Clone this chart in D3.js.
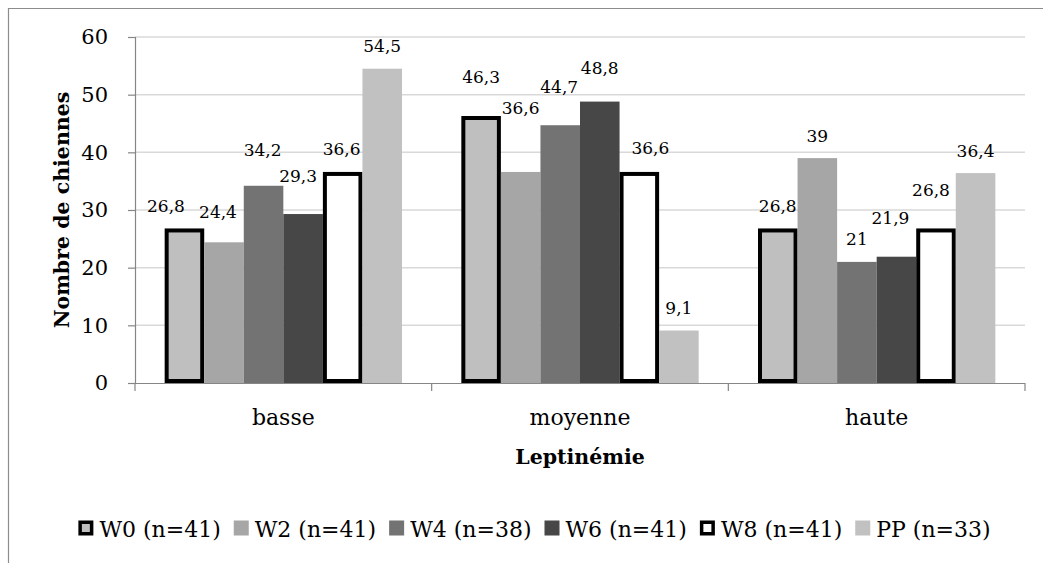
<!DOCTYPE html>
<html>
<head>
<meta charset="utf-8">
<script src="https://cdn.jsdelivr.net/npm/d3@7"></script>
<style>
  html, body { margin: 0; padding: 0; background: #ffffff; }
  svg { display: block; font-family: "DejaVu Serif", serif; }
</style>
</head>
<body>
<svg id="chart" width="1043" height="563"></svg>
<script>
// Leptin level groups on the x axis
const categories = ["basse", "moyenne", "haute"];

// Sampling times (legend entries)
const seriesNames = ["W0 (n=41)", "W2 (n=41)", "W4 (n=38)", "W6 (n=41)", "W8 (n=41)", "PP (n=33)"];

// Percentage of bitches per leptin level, one array per sampling time
const w0 = [26.8, 46.3, 26.8];
const w2 = [24.4, 36.6, 39];
const w4 = [34.2, 44.7, 21];
const w6 = [29.3, 48.8, 21.9];
const w8 = [36.6, 36.6, 26.8];
const pp = [54.5, 9.1, 36.4];

const yTicks = [0, 10, 20, 30, 40, 50, 60];

const yTitle = "Nombre de chiennes";
const xTitle = "Leptinémie";

// ---- styling / layout ----
const seriesValues = [w0, w2, w4, w6, w8, pp];
const fills = ["#bfbfbf", "#a6a6a6", "#737373", "#474747", "#ffffff", "#c1c1c1"];
const outlined = [true, false, false, false, true, false];

// hand-placed label offsets [dx, dy] per category, per series
const labelNudge = [
  [[-18.5, 0], [-6, -7.5], [-1, -13.5], [-5, -15.5], [-1, 0], [0, 0]],
  [[0, -16.5], [0, -41.5], [-1, -15.5], [0, -11.5], [11, -1.5], [0, 0]],
  [[0, 0], [0, 0], [0, 0], [-6, -16], [-5, -15.5], [0, 0]]
];

const plot = { left: 135, right: 1025, top: 37, bottom: 383 };
const svg = d3.select("#chart");

// chart area border (left and top edges visible)
svg.append("path")
  .attr("d", "M8.5,563 V8.5 H1043")
  .attr("fill", "none")
  .attr("stroke", "#8c8c8c")
  .attr("stroke-width", 1.2);

const x0 = d3.scaleBand().domain(categories).range([plot.left, plot.right]).padding(0);
const bw = x0.bandwidth();
const x1 = d3.scaleBand().domain(d3.range(seriesNames.length))
  .range([bw * 0.1, bw * 0.9]).padding(0);
const y = d3.scaleLinear().domain([0, 60]).range([plot.bottom, plot.top]);

// horizontal gridlines
svg.append("g")
  .selectAll("line")
  .data(yTicks.filter(t => t > 0))
  .join("line")
  .attr("x1", plot.left).attr("x2", plot.right)
  .attr("y1", d => y(d)).attr("y2", d => y(d))
  .attr("stroke", "#d9d9d9")
  .attr("stroke-width", 1.5);

// y axis
const yAxis = svg.append("g")
  .attr("transform", `translate(${plot.left},0)`)
  .call(d3.axisLeft(y).tickValues(yTicks).tickSize(7).tickPadding(20).tickFormat(d3.format("d")));
yAxis.select(".domain").attr("stroke", "#868686").attr("stroke-width", 1.2);
yAxis.selectAll(".tick line").attr("stroke", "#868686").attr("stroke-width", 1.2);
yAxis.selectAll(".tick text")
  .attr("font-family", "DejaVu Serif")
  .attr("font-size", 21)
  .attr("fill", "#000");

// bars
const groups = svg.append("g")
  .selectAll("g")
  .data(categories)
  .join("g")
  .attr("transform", d => `translate(${x0(d)},0)`);

seriesNames.forEach((name, si) => {
  const sw = outlined[si] ? 4 : 0;
  groups.append("rect")
    .attr("x", x1(si) + sw / 2)
    .attr("width", x1.bandwidth() - sw)
    .attr("y", (c, ci) => y(seriesValues[si][ci]) + sw / 2)
    .attr("height", (c, ci) => y(0) - y(seriesValues[si][ci]) - sw)
    .attr("fill", fills[si])
    .attr("stroke", outlined[si] ? "#000" : "none")
    .attr("stroke-width", sw);
});

// x axis
const xAxisG = svg.append("g");
xAxisG.append("line")
  .attr("x1", plot.left).attr("x2", plot.right)
  .attr("y1", plot.bottom + 0.5).attr("y2", plot.bottom + 0.5)
  .attr("stroke", "#868686").attr("stroke-width", 1.2);
const bounds = categories.map(c => x0(c)).concat([x0(categories[categories.length - 1]) + bw]);
xAxisG.selectAll("line.tick")
  .data(bounds)
  .join("line")
  .attr("class", "tick")
  .attr("x1", d => d).attr("x2", d => d)
  .attr("y1", plot.bottom).attr("y2", plot.bottom + 8)
  .attr("stroke", "#868686").attr("stroke-width", 1.2);
xAxisG.selectAll("text")
  .data(categories)
  .join("text")
  .attr("x", d => x0(d) + bw / 2)
  .attr("y", 425)
  .attr("text-anchor", "middle")
  .attr("font-size", 22)
  .attr("fill", "#000")
  .text(d => d);

// data labels
const fmt = v => String(v).replace(".", ",");
seriesNames.forEach((name, si) => {
  groups.append("text")
    .attr("x", (c, ci) => x1(si) + x1.bandwidth() / 2 + labelNudge[ci][si][0])
    .attr("y", (c, ci) => y(seriesValues[si][ci]) - 16.5 + labelNudge[ci][si][1])
    .attr("text-anchor", "middle")
    .attr("font-size", 17)
    .attr("fill", "#000")
    .text((c, ci) => fmt(seriesValues[si][ci]));
});

// axis titles
svg.append("text")
  .attr("transform", `translate(69,${(plot.top + plot.bottom) / 2}) rotate(-90)`)
  .attr("text-anchor", "middle")
  .attr("font-size", 20.5)
  .attr("font-weight", "bold")
  .attr("fill", "#000")
  .text(yTitle);

svg.append("text")
  .attr("x", (plot.left + plot.right) / 2)
  .attr("y", 464)
  .attr("text-anchor", "middle")
  .attr("font-size", 20.5)
  .attr("font-weight", "bold")
  .attr("fill", "#000")
  .text(xTitle);

// legend
const legend = svg.append("g");
const items = legend.selectAll("g")
  .data(seriesNames)
  .join("g");
items.append("text")
  .attr("font-size", 22)
  .attr("fill", "#000")
  .attr("y", 537)
  .text(d => d);
const markerSize = 15, markerGap = 6, itemGap = 13;
let cursor = 0;
const widths = [];
items.each(function () {
  const w = this.querySelector("text").getComputedTextLength();
  widths.push(w);
});
const total = d3.sum(widths) + seriesNames.length * (markerSize + markerGap) + (seriesNames.length - 1) * itemGap;
const start = 534.5 - total / 2;
cursor = start;
items.each(function (d, i) {
  const g = d3.select(this);
  const sw = outlined[i] ? 3.5 : 0;
  g.append("rect")
    .attr("x", cursor + sw / 2)
    .attr("y", 520.5 + sw / 2)
    .attr("width", markerSize - sw)
    .attr("height", markerSize - sw)
    .attr("fill", fills[i])
    .attr("stroke", outlined[i] ? "#000" : "none")
    .attr("stroke-width", sw);
  g.select("text").attr("x", cursor + markerSize + markerGap);
  cursor += markerSize + markerGap + widths[i] + itemGap;
});
</script>
</body>
</html>
